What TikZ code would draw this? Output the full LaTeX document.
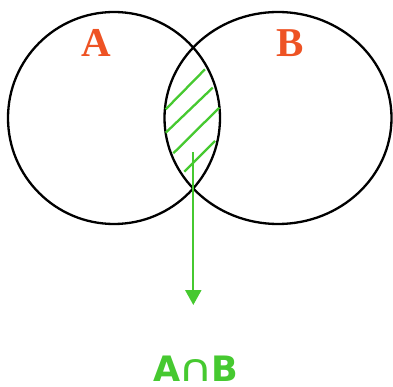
\documentclass[tikz,border=0pt]{standalone}
\usepackage{fontspec}
\setmainfont{Liberation Serif}
\newfontfamily\labfont{DejaVu Sans}
\usetikzlibrary{arrows.meta}
\definecolor{setred}{HTML}{EE5324}
\definecolor{setgreen}{HTML}{46C930}
\begin{document}
\begin{tikzpicture}[x=1pt,y=-1pt,
  setline/.style={line width=2.3pt,black},
  hatch/.style={line width=2.3pt,setgreen},
  setlabel/.style={inner sep=0pt,text=setred,font=\fontsize{41}{41}\selectfont\bfseries},
  reslabel/.style={inner sep=0pt,anchor=base,text=setgreen,font=\labfont\fontsize{35}{35}\selectfont\bfseries}]
\useasboundingbox (0,0) rectangle (393,387);
\draw[setline] (114,118) circle [radius=106];
\draw[setline] (278,118) ellipse [x radius=113.5, y radius=106];
\draw[hatch] (165.7,109.3) -- (205,69.3);
\draw[hatch] (165.7,132.7) -- (212.7,87.7);
\draw[hatch] (173.3,153.3) -- (219.3,107.7);
\draw[hatch] (184.3,171.7) -- (215,141);
\node[setlabel] (la) at (96,43) {A};
\node[setlabel] (lb) at (290,43) {B};
\node[reslabel] (res) at (196,381.5) {A\kern-2pt\scalebox{1.25}[1]{\mdseries\fontsize{38}{38}\selectfont ∩}\kern-2pt B};
\coordinate (start) at (193.3,152.3);
\coordinate (tip) at (193.3,305);
\draw[line width=2.3pt,setgreen,-{Triangle[width=16pt,length=15pt]}] (start) -- (tip);
\end{tikzpicture}
\end{document}
